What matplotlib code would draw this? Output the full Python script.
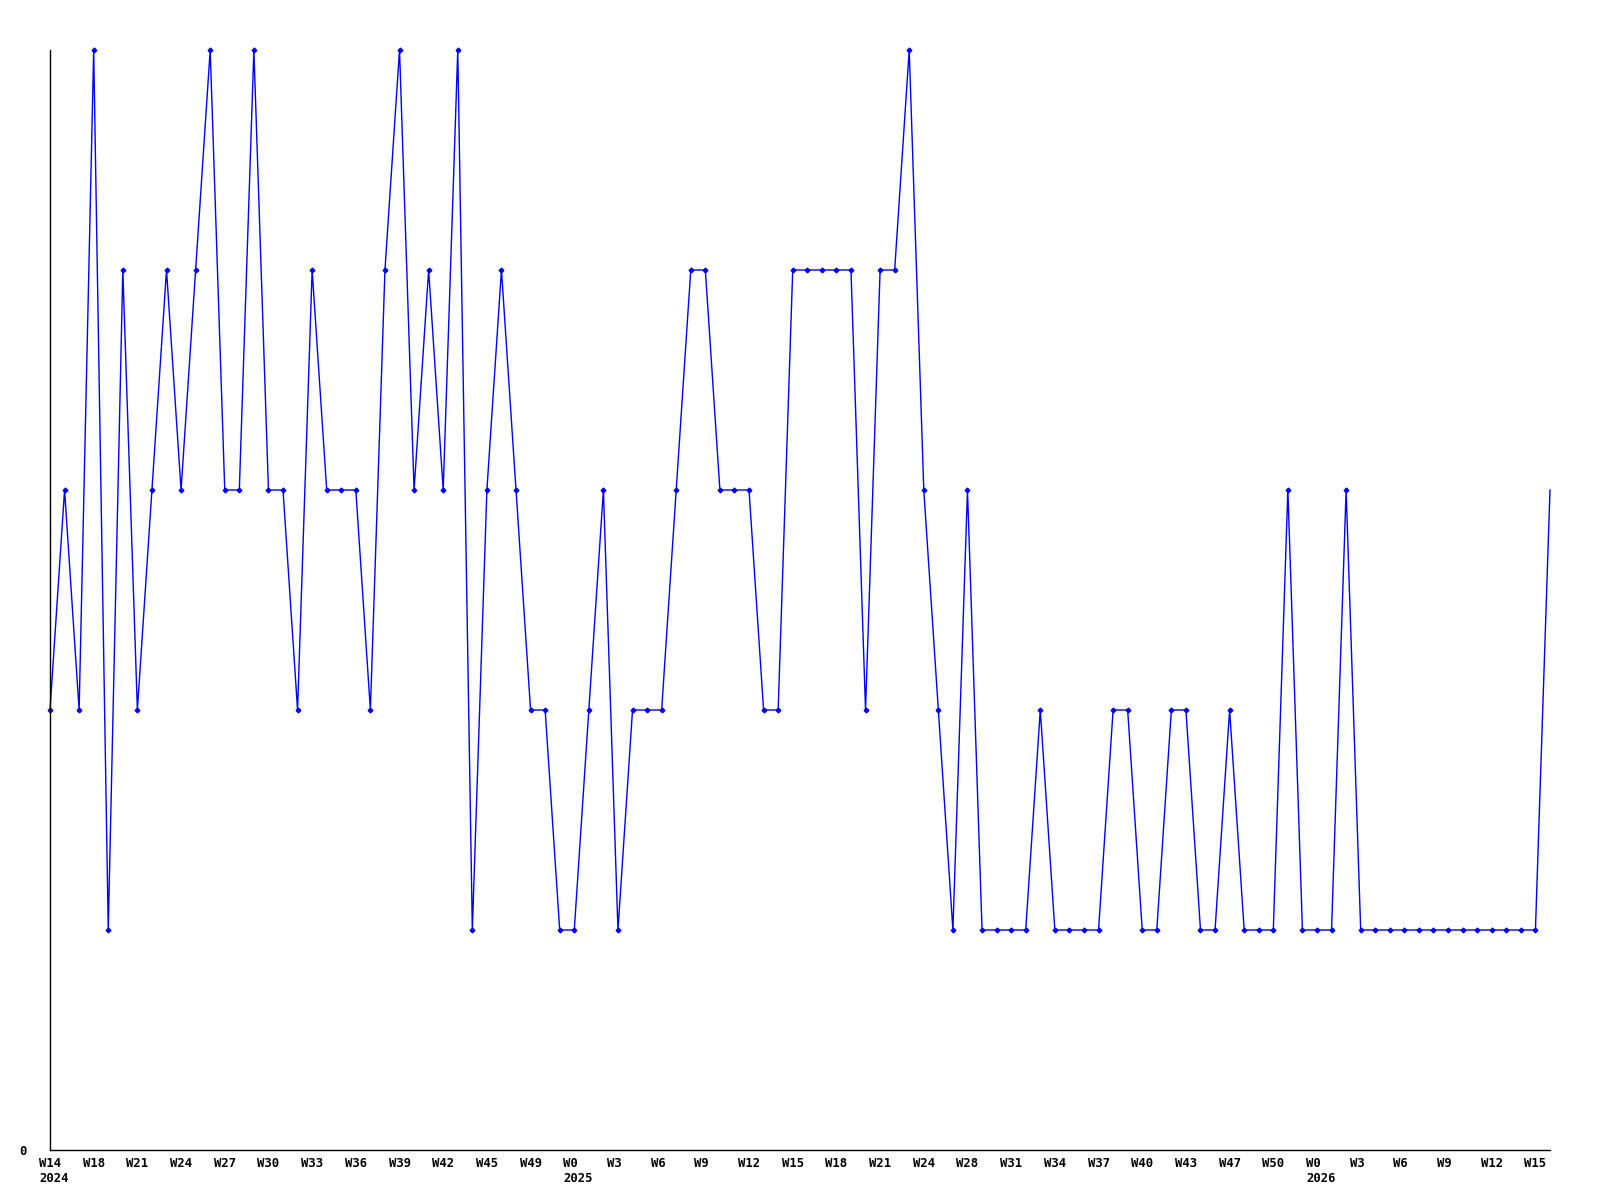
import matplotlib
matplotlib.use("Agg")
import matplotlib.pyplot as plt
import matplotlib.transforms as mtransforms

# weekly counts, W14 2024 .. W16 2026
values = [2, 3, 2, 5, 1, 4, 2, 3, 4, 3, 4, 5, 3, 3, 5, 3, 3, 2, 4, 3,
          3, 3, 2, 4, 5, 3, 4, 3, 5, 1, 3, 4, 3, 2, 2, 1, 1, 2, 3, 1,
          2, 2, 2, 3, 4, 4, 3, 3, 3, 2, 2, 4, 4, 4, 4, 4, 2, 4, 4, 5,
          3, 2, 1, 3, 1, 1, 1, 1, 2, 1, 1, 1, 1, 2, 2, 1, 1, 2, 2, 1,
          1, 2, 1, 1, 1, 3, 1, 1, 1, 3, 1, 1, 1, 1, 1, 1, 1, 1, 1, 1,
          1, 1, 1, 3]

week_labels = ["W14", "W18", "W21", "W24", "W27", "W30", "W33", "W36", "W39",
               "W42", "W45", "W49", "W0", "W3", "W6", "W9", "W12", "W15",
               "W18", "W21", "W24", "W28", "W31", "W34", "W37", "W40", "W43",
               "W47", "W50", "W0", "W3", "W6", "W9", "W12", "W15"]
year_labels = {0: "2024", 12: "2025", 29: "2026"}

x = list(range(len(values)))
tick_pos = x[::3][:len(week_labels)]
tick_text = []
for i, w in enumerate(week_labels):
    if i in year_labels:
        tick_text.append(w + "\n" + year_labels[i])
    else:
        tick_text.append(w)

fig = plt.figure(figsize=(16, 12), dpi=100)
ax = fig.add_axes([50 / 1600, 50 / 1200, 1500 / 1600, 1100 / 1200])

ax.plot(x, values, color="#0000ff", linewidth=1.0, marker="D", markersize=2.4,
        markevery=list(range(len(values) - 1)), clip_on=False)

ax.set_xlim(0, len(values) - 1)
ax.set_ylim(0, 5)

for s in ["top", "right"]:
    ax.spines[s].set_visible(False)
for s in ["left", "bottom"]:
    ax.spines[s].set_linewidth(1.0)
    ax.spines[s].set_color("black")

font = dict(family="DejaVu Sans Mono", weight="bold", size=8.8)

ax.set_yticks([0])
ax.set_yticklabels(["0"], **font)
ax.tick_params(axis="y", length=0, pad=17)

ax.set_xticks(tick_pos)
ax.set_xticklabels(tick_text, ha="left", linespacing=1.25, **font)
ax.tick_params(axis="x", length=0, pad=5)
offset = mtransforms.ScaledTranslation(-11 / 100, 0, fig.dpi_scale_trans)
for lab in ax.get_xticklabels():
    lab.set_transform(lab.get_transform() + offset)

fig.savefig("out.png", dpi=100, facecolor="white")
